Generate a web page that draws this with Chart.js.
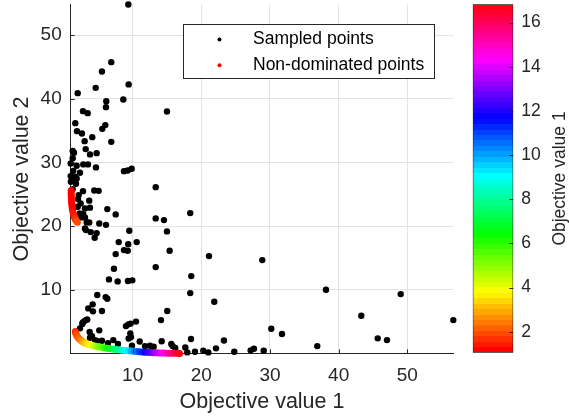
<!DOCTYPE html>
<html>
<head>
<meta charset="utf-8">
<script src="https://cdn.jsdelivr.net/npm/chart.js@4.4.0/dist/chart.umd.min.js"></script>
<style>
  html, body { margin: 0; padding: 0; background: #fff; }
  #wrap { position: relative; width: 569px; height: 419px; }
  #wrap canvas { position: absolute; left: 0; top: 0; }
</style>
</head>
<body>
<div id="wrap">
  <canvas id="mainChart" width="569" height="419"></canvas>
  <canvas id="barChart" width="569" height="419"></canvas>
</div>
<script>
// sampled points (objective 1, objective 2)
const sampledX = [9.37, 6.89, 5.53, 9.42, 4.62, 2.00, 8.64, 6.16, 6.12, 15.0, 2.77, 3.45, 1.65, 6.02, 5.58, 1.89,
  2.62, 3.01, 4.12, 6.89, 3.16, 1.27, 1.46, 4.76, 3.79, 1.27, 0.98, 1.85, 2.81, 3.50, 4.66, 1.35,
  8.74, 9.28, 9.86, 2.33, 0.98, 1.85, 1.17, 1.75, 13.36, 2.77, 4.41, 5.05, 1.27, 2.04, 3.68, 3.06,
  3.79, 6.31, 7.53, 13.36, 14.56, 18.39, 2.29, 2.52, 3.31, 3.68, 5.14, 6.12, 3.89, 4.76, 4.47, 9.51,
  15.0, 21.12, 7.97, 9.36, 10.59, 7.53, 8.74, 9.28, 15.39, 13.36, 7.28, 9.32, 9.95, 6.55, 7.82, 18.54,
  18.39, 21.89, 4.85, 6.07, 6.31, 3.54, 4.18, 4.22, 5.53, 2.91, 3.2, 3.39, 2.67, 2.72, 2.33, 5.14,
  3.74, 9.03, 9.37, 9.71, 10.49, 14.13, 15.04, 9.66, 9.76, 9.42, 11.03, 14.23, 15.63, 18.5, 7.18, 5.53,
  3.79, 22.14, 23.3, 20.29, 21.02, 19.08, 17.96, 17.67, 24.8, 12.53, 13.06, 9.9, 15.83, 28.88, 38.16, 49.04,
  43.3, 56.7, 30.19, 31.75, 45.69, 47.04, 36.89, 27.19, 27.67, 29.09, 2.81, 3.06, 3.06, 3.2, 1.6, 1.0,
  4.51, 4.08, 4.8, 6.41, 7.86, 11.8, 16.2, 2.14, 2.43, 2.0];
const sampledY = [54.8, 45.75, 44.29, 42.25, 41.71, 40.88, 39.89, 39.62, 38.68, 38.0, 38.05, 37.74, 36.17, 35.86, 35.27, 34.91,
  34.55, 33.34, 33.97, 33.23, 32.09, 31.82, 31.51, 31.46, 31.26, 30.67, 29.84, 29.47, 29.69, 29.69, 29.22, 28.68,
  28.63, 28.74, 29.0, 28.37, 27.85, 27.49, 27.22, 26.64, 26.12, 25.49, 25.6, 25.54, 25.81, 24.24, 24.0, 22.78,
  22.9, 22.67, 21.84, 21.21, 20.94, 22.04, 21.99, 21.37, 20.58, 20.58, 20.42, 20.2, 19.06, 18.9, 18.16, 19.26,
  19.17, 15.29, 17.49, 17.17, 17.49, 15.6, 16.23, 16.12, 16.12, 13.56, 13.3, 11.37, 11.48, 11.63, 11.32, 12.15,
  9.48, 8.12, 9.17, 8.85, 8.59, 7.08, 7.71, 6.61, 6.66, 5.04, 5.24, 5.35, 4.62, 4.82, 3.94, 3.63,
  3.36, 4.3, 4.57, 4.69, 5.0, 5.24, 6.66, 3.16, 2.57, 2.34, 1.87, 1.92, 1.48, 2.26, 2.1, 1.99,
  2.46, 0.8, 2.03, 0.42, 0.17, 0.27, 0.17, 0.93, 0.27, 1.21, 1.05, 1.21, 1.16, 14.66, 10.0, 9.32,
  5.92, 5.24, 3.88, 3.05, 2.37, 2.1, 1.16, 0.49, 0.74, 0.42, 21.88, 21.37, 19.64, 19.37, 27.74, 26.96,
  2.1, 2.73, 1.95, 1.63, 1.48, 1.16, 0.85, 24.87, 23.56, 23.03];

// non-dominated points, coloured by objective 1
const frontX = [1.05, 1.05, 1.06, 1.07, 1.09, 1.12, 1.16, 1.21, 1.27, 1.34, 1.42, 1.51, 1.61, 1.72, 1.84, 1.95,
  1.65, 1.7, 1.8, 1.9, 2.05, 2.2, 2.4, 2.6, 2.8, 3.05, 3.3, 3.6, 3.9, 4.2, 4.6, 5.0,
  5.4, 5.8, 6.2, 6.6, 7.0, 7.4, 7.8, 8.2, 8.6, 9.0, 9.4, 9.8, 10.2, 10.6, 11.0, 11.4,
  11.8, 12.2, 12.6, 13.0, 13.4, 13.8, 14.2, 14.6, 15.0, 15.4, 15.8, 16.2, 16.6, 16.83];
const frontY = [25.6, 25.2, 24.8, 24.4, 24.0, 23.6, 23.2, 22.8, 22.4, 22.05, 21.75, 21.45, 21.2, 20.95, 20.75, 20.6,
  3.45, 3.2, 2.95, 2.75, 2.5, 2.3, 2.1, 1.95, 1.8, 1.65, 1.53, 1.42, 1.32, 1.24, 1.14, 1.05,
  0.97, 0.9, 0.83, 0.77, 0.71, 0.66, 0.61, 0.56, 0.51, 0.46, 0.42, 0.38, 0.34, 0.31, 0.27, 0.24,
  0.21, 0.18, 0.15, 0.13, 0.11, 0.09, 0.07, 0.06, 0.05, 0.04, 0.03, 0.02, 0.02, 0.01];

const seriesNames = ['Sampled points', 'Non-dominated points'];
const xTicks = [10, 20, 30, 40, 50];
const yTicks = [10, 20, 30, 40, 50];
const cbTicks = [2, 4, 6, 8, 10, 12, 14, 16];
const xTitle = 'Objective value 1';
const yTitle = 'Objective value 2';
const cbTitle = 'Objective value 1';

const FONT = "'Liberation Sans', Arial, Helvetica, sans-serif";
const INK = '#262626';

// tight limits like matlab
const allX = sampledX.concat(frontX), allY = sampledY.concat(frontY);
const cMin = Math.min(...frontX), cMax = Math.max(...frontX);

// matlab hsv(64)
function hsvColor(h) {
  const i = Math.floor(h * 6), f = h * 6 - i;
  const rgb = [[1, f, 0], [1 - f, 1, 0], [0, 1, f], [0, 1 - f, 1], [f, 0, 1], [1, 0, 1 - f]][i % 6];
  return 'rgb(' + rgb.map(c => Math.round(c * 255)).join(',') + ')';
}
function cmap(v) {
  const k = Math.max(0, Math.min(63, Math.floor((v - cMin) / (cMax - cMin) * 64)));
  return hsvColor(k / 64);
}

// scales reserve room for half a label, we don't want that
function noPad(s) {
  s.paddingTop = 0; s.paddingBottom = 0; s.paddingLeft = 0; s.paddingRight = 0;
}

// ticks pointing into the axes
const inwardTicks = {
  id: 'inwardTicks',
  afterDraw(chart, args, opts) {
    const ctx = chart.ctx, area = chart.chartArea, len = opts.length;
    ctx.save();
    ctx.strokeStyle = INK;
    ctx.lineWidth = 1;
    ctx.beginPath();
    for (const id of opts.axes) {
      const s = chart.scales[id];
      for (const t of s.ticks) {
        const p = Math.round(s.getPixelForValue(t.value)) + 0.5;
        if (s.position === 'bottom') { ctx.moveTo(p, area.bottom); ctx.lineTo(p, area.bottom - len); }
        else if (s.position === 'left') { ctx.moveTo(area.left, p); ctx.lineTo(area.left + len, p); }
        else { ctx.moveTo(area.right, p); ctx.lineTo(area.right - len, p); }
      }
    }
    ctx.stroke();
    ctx.restore();
  }
};

const boxLegend = {
  id: 'boxLegend',
  afterDatasetsDraw(chart, args, opts) {
    const ctx = chart.ctx;
    const [bx, by, bw, bh] = opts.box;
    ctx.save();
    ctx.fillStyle = '#fff';
    ctx.fillRect(bx, by, bw, bh);
    ctx.strokeStyle = INK;
    ctx.lineWidth = 1;
    ctx.strokeRect(bx + 0.5, by + 0.5, bw, bh);
    ctx.font = '17.5px ' + FONT;
    ctx.textBaseline = 'middle';
    ctx.textAlign = 'left';
    chart.data.datasets.forEach((ds, i) => {
      const cy = by + 15.5 + i * 25.7;
      ctx.beginPath();
      ctx.arc(bx + 36.5, cy, 2, 0, Math.PI * 2);
      ctx.fillStyle = ds.legendColor;
      ctx.fill();
      ctx.fillStyle = '#000';
      ctx.fillText(ds.label, bx + 70, cy);
    });
    ctx.restore();
  }
};

const cbLabel = {
  id: 'cbLabel',
  afterDraw(chart) {
    const ctx = chart.ctx, area = chart.chartArea;
    ctx.save();
    ctx.translate(chart.width - 8.5, (area.top + area.bottom) / 2);
    ctx.rotate(-Math.PI / 2);
    ctx.font = '17.5px ' + FONT;
    ctx.fillStyle = INK;
    ctx.textAlign = 'center';
    ctx.textBaseline = 'middle';
    ctx.fillText(cbTitle, 0, 0);
    ctx.restore();
  }
};

new Chart(document.getElementById('mainChart'), {
  type: 'scatter',
  data: {
    datasets: [{
      label: seriesNames[0],
      data: sampledX.map((x, i) => ({ x: x, y: sampledY[i] })),
      backgroundColor: '#000',
      legendColor: '#000',
      pointRadius: 3.2,
      borderWidth: 0,
      clip: false,
      order: 1
    }, {
      label: seriesNames[1],
      data: frontX.map((x, i) => ({ x: x, y: frontY[i] })),
      backgroundColor: frontX.map(cmap),
      legendColor: '#ff0000',
      pointRadius: 3.5,
      borderWidth: 0,
      clip: false,
      order: 0
    }]
  },
  options: {
    responsive: false,
    animation: false,
    events: [],
    layout: { padding: { top: 4.5, right: 115.7, bottom: 0, left: 0 } },
    plugins: {
      legend: { display: false },
      tooltip: { enabled: false },
      inwardTicks: { axes: ['x', 'y'], length: 4 },
      boxLegend: { box: [183, 24, 251, 54] }
    },
    scales: {
      x: {
        type: 'linear',
        min: Math.min(...allX),
        max: Math.max(...allX),
        afterBuildTicks: s => { s.ticks = xTicks.map(v => ({ value: v })); },
        afterFit: s => { s.height = 65.6; noPad(s); },
        grid: { color: '#e3e3e3', drawTicks: false },
        border: { color: INK, width: 1 },
        ticks: { font: { family: FONT, size: 19 }, color: INK, padding: 11, maxRotation: 0 },
        title: { display: true, text: xTitle, font: { family: FONT, size: 21.5 }, color: INK, padding: { top: 0, bottom: 4 } }
      },
      y: {
        type: 'linear',
        min: Math.min(...allY),
        max: Math.max(...allY),
        afterBuildTicks: s => { s.ticks = yTicks.map(v => ({ value: v })); },
        afterFit: s => { s.width = 70.7; noPad(s); },
        grid: { color: '#e3e3e3', drawTicks: false },
        border: { color: INK, width: 1 },
        ticks: { font: { family: FONT, size: 19 }, color: INK, padding: 9 },
        title: { display: true, text: yTitle, font: { family: FONT, size: 21.5 }, color: INK, padding: { top: 9.6, bottom: 0 } }
      }
    }
  },
  plugins: [inwardTicks, boxLegend]
});

// colour bar
new Chart(document.getElementById('barChart'), {
  type: 'bar',
  data: {
    labels: ['cb'],
    datasets: [{
      data: [[cMin, cMax]],
      backgroundColor(c) {
        const chart = c.chart, area = chart.chartArea;
        if (!area) return null;
        const ys = chart.scales.y;
        const y0 = ys.getPixelForValue(cMin), y1 = ys.getPixelForValue(cMax);
        const g = chart.ctx.createLinearGradient(0, y0, 0, y1);
        for (let i = 0; i < 64; i++) {
          const col = hsvColor(i / 64);
          g.addColorStop(i / 64, col);
          g.addColorStop(Math.min(1, (i + 1) / 64 - 0.0001), col);
        }
        return g;
      },
      borderColor: INK,
      borderWidth: 1,
      borderSkipped: false,
      barPercentage: 1,
      categoryPercentage: 1
    }]
  },
  options: {
    responsive: false,
    animation: false,
    events: [],
    layout: { padding: { top: 4.3, right: 0, bottom: 66.3, left: 472.7 } },
    plugins: {
      legend: { display: false },
      tooltip: { enabled: false },
      inwardTicks: { axes: ['y'], length: 4 }
    },
    scales: {
      x: { display: false },
      y: {
        position: 'right',
        min: cMin,
        max: cMax,
        afterBuildTicks: s => { s.ticks = cbTicks.map(v => ({ value: v })); },
        afterFit: s => { s.width = 55.7; noPad(s); },
        grid: { display: false, drawTicks: false },
        border: { display: false },
        ticks: { font: { family: FONT, size: 17.5 }, color: INK, padding: 8 }
      }
    }
  },
  plugins: [inwardTicks, cbLabel]
});
</script>
</body>
</html>
